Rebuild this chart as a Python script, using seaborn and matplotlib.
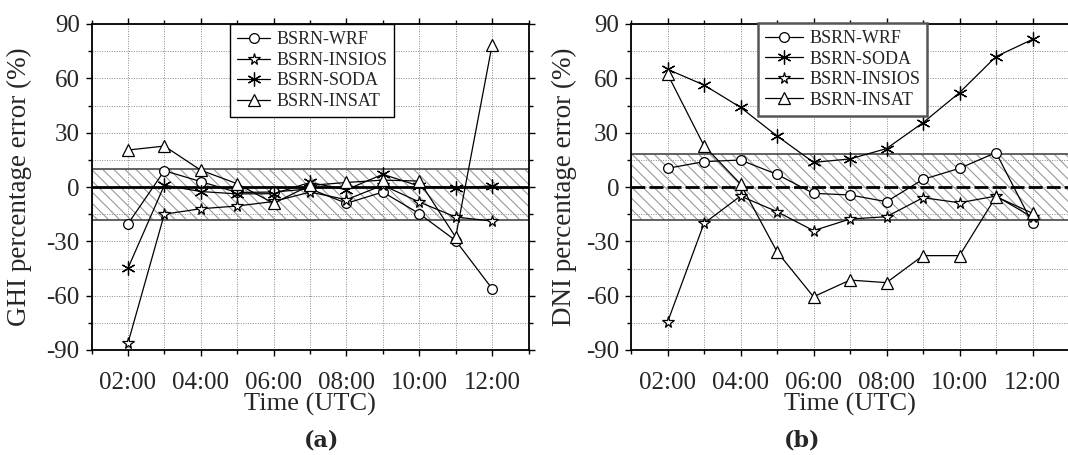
import numpy as np
import pandas as pd
import matplotlib
matplotlib.use("Agg")
import matplotlib.pyplot as plt
import seaborn as sns
from matplotlib.ticker import MultipleLocator, FixedLocator

# ---------------- data ----------------
hours = [2, 3, 4, 5, 6, 7, 8, 9, 10, 11, 12]
xtick_pos = [2, 4, 6, 8, 10, 12]
xtick_labels = ["02:00", "04:00", "06:00", "08:00", "10:00", "12:00"]

ghi_wrf = [-20.4, 9.0, 3.0, -3.0, -2.8, -1.0, -9.0, -2.8, -14.7, -29.6, -56.1]
ghi_insios = [-86.3, -15.0, -12.0, -10.5, -8.0, -2.8, -7.0, 1.0, -8.3, -16.6, -18.8]
ghi_soda = [-44.9, 1.0, -2.5, -3.8, -3.7, 2.5, -1.5, 7.0, 0.5, -0.5, 0.6]
ghi_insat = [20.4, 22.6, 9.3, 1.8, -9.0, 0.9, 2.5, 3.8, 3.3, -27.7, 78.4]

dni_wrf = [10.3, 14.0, 14.9, 7.0, -3.5, -4.4, -8.1, 4.2, 10.3, 19.0, -20.1]
dni_soda = [65.0, 56.3, 44.0, 28.2, 13.6, 15.5, 21.2, 35.5, 52.1, 72.0, 81.5]
dni_insios = [-74.7, -20.1, -5.0, -13.6, -24.1, -17.7, -16.4, -5.9, -8.7, -5.0, -16.7]
dni_insat = [62.4, 22.8, 1.7, -35.7, -60.6, -51.4, -52.8, -37.9, -37.9, -5.3, -14.5]

ghi_band = [-18, 10]
dni_band = [-18, 18]

# ---------------- style ----------------
sns.set_style("ticks")
plt.rcParams["font.family"] = ["Liberation Serif", "DejaVu Serif"]
plt.rcParams["axes.unicode_minus"] = False
plt.rcParams["hatch.linewidth"] = 0.8

fig = plt.figure(figsize=(10.68, 4.55), dpi=100)
ax_a = fig.add_axes([91.5 / 1068, 105 / 455, 437 / 1068, 326 / 455])
ax_b = fig.add_axes([631 / 1068, 105 / 455, 438 / 1068, 326 / 455])

marker_style = {
    "WRF": dict(marker="o", markersize=7),
    "INSIOS": dict(marker="*", markersize=8.5),
    "SODA": dict(marker=(6, 2, 0), markersize=10),
    "INSAT": dict(marker="^", markersize=8),
}


def draw_series(ax, name, vals):
    st = marker_style[name]
    sns.lineplot(x=hours, y=vals, ax=ax, color="black", lw=0.9,
                 marker=st["marker"], markersize=st["markersize"],
                 markerfacecolor="white", markeredgecolor="black",
                 markeredgewidth=0.9, label="BSRN-" + name, zorder=5)


def style_axes(ax, band, ylabel, zero_dashed):
    ax.set_xlim(1, 13)
    ax.set_ylim(-90, 90)
    ax.axhspan(band[0], band[1], facecolor="none", edgecolor="#9a9a9a",
               hatch="\\\\\\", lw=0, zorder=1)
    ax.axhspan(band[0], band[1], fill=False, edgecolor="#555555", lw=1.3, zorder=2)
    if zero_dashed:
        ax.axhline(0, color="black", lw=2.0, ls=(0, (5, 1.5)), zorder=3)
    else:
        ax.axhline(0, color="black", lw=2.0, zorder=3)
    ax.xaxis.set_major_locator(FixedLocator(xtick_pos))
    ax.set_xticklabels(xtick_labels)
    ax.xaxis.set_minor_locator(MultipleLocator(1))
    ax.yaxis.set_major_locator(MultipleLocator(30))
    ax.yaxis.set_minor_locator(MultipleLocator(15))
    ax.grid(True, which="both", color="#8a8a8a", ls=(0, (1, 1.5)), lw=0.7)
    ax.set_axisbelow(True)
    ax.tick_params(which="both", direction="out", top=True, right=True,
                   labeltop=False, labelright=False, width=1.0, color="black")
    ax.tick_params(which="major", length=4.5, labelsize=18)
    ax.tick_params(which="minor", length=3)
    ax.tick_params(axis="x", which="major", pad=11)
    ax.tick_params(axis="y", which="major", pad=4)
    for s in ax.spines.values():
        s.set_linewidth(1.3)
        s.set_color("black")
    ax.set_xlabel("Time (UTC)", fontsize=19)
    ax.xaxis.set_label_coords(0.5, -0.166)
    ax.xaxis.label.set_va("center")
    ax.set_ylabel(ylabel, fontsize=19.5)
    ax.yaxis.label.set_va("center")


# panel (a)
draw_series(ax_a, "WRF", ghi_wrf)
draw_series(ax_a, "INSIOS", ghi_insios)
draw_series(ax_a, "SODA", ghi_soda)
draw_series(ax_a, "INSAT", ghi_insat)
style_axes(ax_a, ghi_band, "GHI percentage error (%)", False)
ax_a.yaxis.set_label_coords(-0.164, 0.5)

# panel (b)
draw_series(ax_b, "WRF", dni_wrf)
draw_series(ax_b, "SODA", dni_soda)
draw_series(ax_b, "INSIOS", dni_insios)
draw_series(ax_b, "INSAT", dni_insat)
style_axes(ax_b, dni_band, "DNI percentage error (%)", True)
ax_b.yaxis.set_label_coords(-0.151, 0.5)

leg_a = ax_a.legend(loc="upper center", bbox_to_anchor=(0.505, 1.0), fontsize=13,
                    frameon=True, fancybox=False, edgecolor="black", framealpha=1,
                    borderaxespad=0, handlelength=1.8, handletextpad=0.35,
                    labelspacing=0.2, borderpad=0.4)
leg_a.get_frame().set_linewidth(1.0)
leg_b = ax_b.legend(loc="upper center", bbox_to_anchor=(0.483, 1.004), fontsize=13,
                    frameon=True, fancybox=False, edgecolor="#555555", framealpha=1,
                    borderaxespad=0, handlelength=2.1, handletextpad=0.35,
                    labelspacing=0.2, borderpad=0.4)
leg_b.get_frame().set_linewidth(1.8)
for leg in (leg_a, leg_b):
    leg.set_zorder(10)

fig.text(322 / 1068, 1 - 440 / 455, "(a)", fontsize=16, fontweight="bold",
         ha="center", va="center", family=["DejaVu Serif"])
fig.text(802 / 1068, 1 - 440 / 455, "(b)", fontsize=16, fontweight="bold",
         ha="center", va="center", family=["DejaVu Serif"])

fig.savefig("out.png", dpi=100)
